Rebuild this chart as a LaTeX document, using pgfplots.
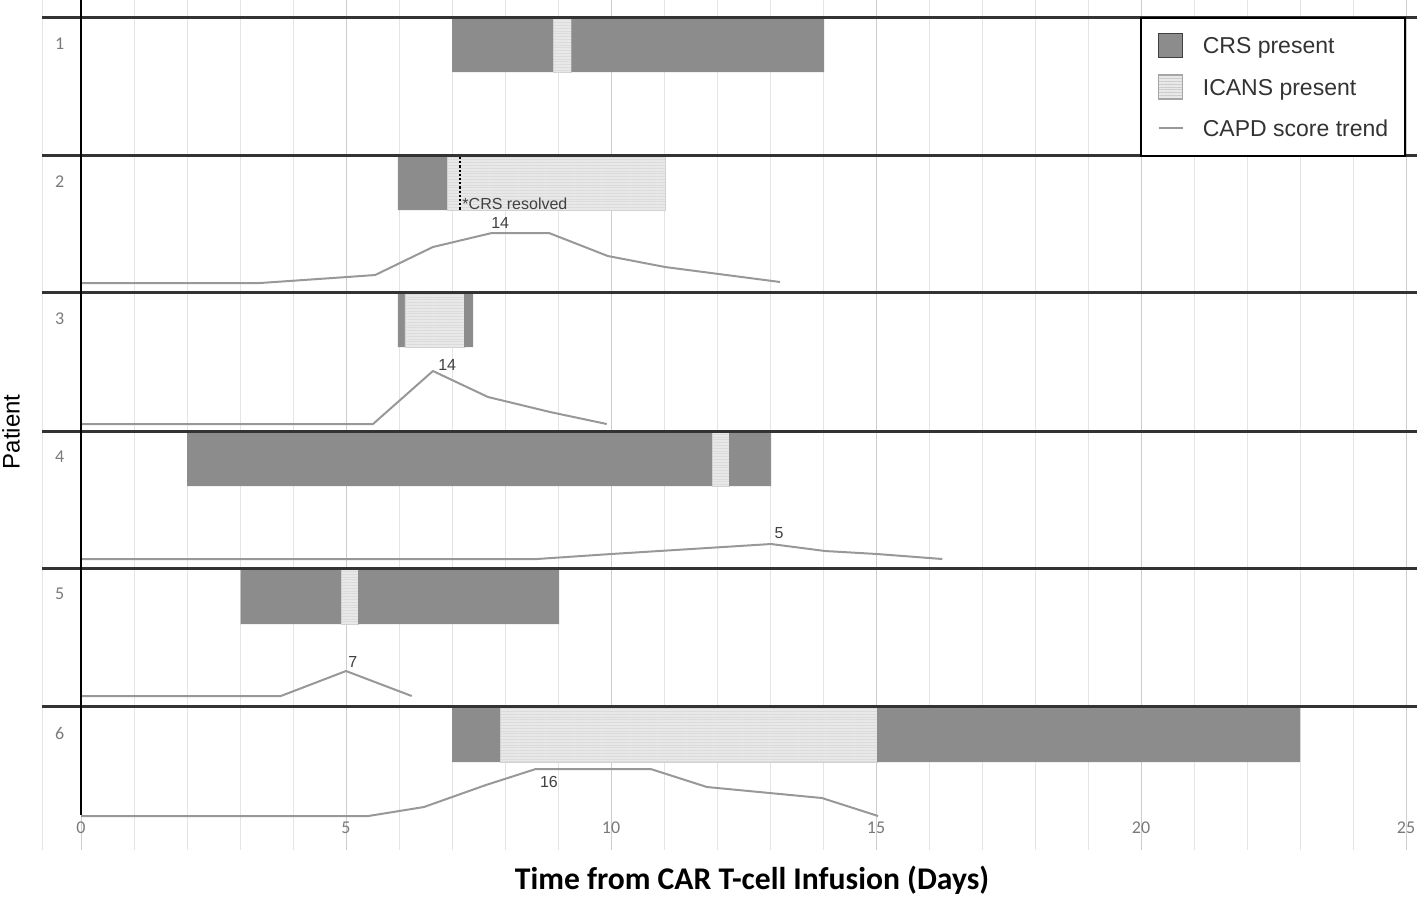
\documentclass[border=0pt]{standalone}
\usepackage{pgfplots}
\pgfplotsset{compat=1.18}
\usetikzlibrary{patterns.meta}
\usepackage{fontspec}
\setmainfont{Liberation Sans}
\newfontfamily\carlito{Carlito}
\definecolor{crs}{HTML}{8C8C8C}
\definecolor{icans}{HTML}{E8E8E8}
\definecolor{capd}{HTML}{989898}
\definecolor{sepc}{HTML}{333333}
\definecolor{gridc}{HTML}{E4E4E4}
\definecolor{tickc}{HTML}{7A7A7A}
\pgfplotsset{
  crsbar/.style={fill=crs, draw=none, forget plot},
  icansbar/.style={fill=icans, draw=gray!35, line width=0.3pt,
    postaction={pattern={Lines[angle=0,distance=1.4pt,line width=0.3pt]}, pattern color=gray!28},
    forget plot},
  capdline/.style={draw=capd, line width=1pt, mark=none, forget plot},
  sepline/.style={draw=sepc, line width=1.5pt, mark=none, forget plot},
}
\tikzset{numlab/.style={font=\fontsize{8}{9}\selectfont, text=black!75}}
\begin{document}
\begin{tikzpicture}
\begin{axis}[
  scale only axis,
  width=687.5pt, height=425pt,
  xmin=-0.7358, xmax=25.2075,
  ymin=0, ymax=850, y dir=reverse,
  axis line style={draw=none},
  ytick=\empty,
  xtick={0,5,...,25},
  minor x tick num=4,
  xmajorgrids, xminorgrids,
  major grid style={draw=gridc!90!black, line width=0.5pt},
  minor grid style={draw=gridc, line width=0.5pt},
  tick style={draw=none},
  major tick length=0pt, minor tick length=0pt,
  /pgf/number format/assume math mode=true,
  xticklabel style={font=\carlito\fontsize{9}{10}\selectfont, text=tickc, anchor=center, yshift=11pt},
  xlabel={Time from CAR T-cell Infusion (Days)},
  xlabel style={at={(axis description cs:0.5164,-0.0353)}, anchor=center,
    font=\carlito\bfseries\fontsize{15.8}{17}\selectfont},
  ylabel={Patient},
  ylabel style={at={(axis description cs:-0.0225,0.492)}, anchor=center, rotate=0,
    font=\fontsize{12}{14}\selectfont},
  clip=false,
  legend style={at={(axis cs:25,17)}, anchor=north east, draw=black, line width=0.8pt,
    fill=white, font=\fontsize{11.5}{13}\selectfont, text=black!80,
    inner xsep=8.5pt, inner ysep=7.5pt, row sep=8pt,
    nodes={inner sep=0pt, text height=8.5pt, text depth=2.5pt},
    /tikz/every odd column/.append style={column sep=9.5pt}},
  legend cell align=left,
]
% faint left frame line
\addplot[draw=gridc, line width=0.5pt, forget plot] coordinates {(-0.7358,0) (-0.7358,850)};

% Patient 1
\addplot[crsbar] coordinates {(7.00,17) (8.91,17) (8.91,72) (7.00,72) (7.00,17)};
\addplot[icansbar] coordinates {(8.91,17) (9.25,17) (9.25,72) (8.91,72) (8.91,17)};
\addplot[crsbar] coordinates {(9.25,17) (14.02,17) (14.02,72) (9.25,72) (9.25,17)};

% Patient 2
\addplot[crsbar] coordinates {(5.98,155) (6.92,155) (6.92,210) (5.98,210) (5.98,155)};
\addplot[icansbar] coordinates {(6.92,155) (11.02,155) (11.02,210) (6.92,210) (6.92,155)};
\addplot[black, line width=1.1pt, densely dotted, forget plot] coordinates {(7.15,157) (7.15,210)};
\addplot[capdline] coordinates {(0,283) (3.38,283) (5.02,277) (5.55,275) (6.64,247) (7.75,233) (8.83,233) (9.94,256) (11.02,267) (13.19,282)};

% Patient 3
\addplot[crsbar] coordinates {(5.98,292) (6.11,292) (6.11,347) (5.98,347) (5.98,292)};
\addplot[icansbar] coordinates {(6.11,292) (7.23,292) (7.23,347) (6.11,347) (6.11,292)};
\addplot[crsbar] coordinates {(7.23,292) (7.40,292) (7.40,347) (7.23,347) (7.23,292)};
\addplot[capdline] coordinates {(0,424) (5.51,424) (6.64,371) (7.68,397) (8.85,412) (9.92,424)};

% Patient 4
\addplot[crsbar] coordinates {(2.00,431) (11.91,431) (11.91,486) (2.00,486) (2.00,431)};
\addplot[icansbar] coordinates {(11.91,431) (12.23,431) (12.23,486) (11.91,486) (11.91,431)};
\addplot[crsbar] coordinates {(12.23,431) (13.02,431) (13.02,486) (12.23,486) (12.23,431)};
\addplot[capdline] coordinates {(0,559) (8.60,559) (10.0,554) (13.02,544) (14.04,551) (15.02,554) (16.25,559)};

% Patient 5
\addplot[crsbar] coordinates {(3.01,568) (4.91,568) (4.91,624) (3.01,624) (3.01,568)};
\addplot[icansbar] coordinates {(4.91,568) (5.23,568) (5.23,624) (4.91,624) (4.91,568)};
\addplot[crsbar] coordinates {(5.23,568) (9.02,568) (9.02,624) (5.23,624) (5.23,568)};
\addplot[capdline] coordinates {(0,696) (3.77,696) (5.0,671) (6.24,696)};

% Patient 6
\addplot[crsbar] coordinates {(7.00,706) (7.91,706) (7.91,762) (7.00,762) (7.00,706)};
\addplot[icansbar] coordinates {(7.91,706) (15.02,706) (15.02,762) (7.91,762) (7.91,706)};
\addplot[crsbar] coordinates {(15.02,706) (23.00,706) (23.00,762) (15.02,762) (15.02,706)};
\addplot[capdline] coordinates {(0,816) (5.42,816) (6.47,807) (7.64,785) (8.58,769) (10.75,769) (11.81,787) (13.98,798) (15.04,816)};

% panel separators
\addplot[sepline] coordinates {(-0.7358,17) (25.2075,17)};
\addplot[sepline] coordinates {(-0.7358,155) (25.2075,155)};
\addplot[sepline] coordinates {(-0.7358,292) (25.2075,292)};
\addplot[sepline] coordinates {(-0.7358,431) (25.2075,431)};
\addplot[sepline] coordinates {(-0.7358,568) (25.2075,568)};
\addplot[sepline] coordinates {(-0.7358,706) (25.2075,706)};
% y axis line
\addplot[black, line width=1.3pt, forget plot] coordinates {(0,0) (0,815)};

% annotations
\node[numlab, anchor=west, inner sep=0pt] at (axis cs:7.19,204) {*CRS resolved};
\node[numlab] at (axis cs:7.91,223) {14};
\node[numlab] at (axis cs:6.91,365) {14};
\node[numlab] at (axis cs:13.17,533) {5};
\node[numlab] at (axis cs:5.13,662) {7};
\node[numlab] at (axis cs:8.83,782) {16};

% patient numbers
\node[font=\carlito\fontsize{9}{10}\selectfont, text=tickc] at (axis cs:-0.40,44) {1};
\node[font=\carlito\fontsize{9}{10}\selectfont, text=tickc] at (axis cs:-0.40,182) {2};
\node[font=\carlito\fontsize{9}{10}\selectfont, text=tickc] at (axis cs:-0.40,319) {3};
\node[font=\carlito\fontsize{9}{10}\selectfont, text=tickc] at (axis cs:-0.40,457) {4};
\node[font=\carlito\fontsize{9}{10}\selectfont, text=tickc] at (axis cs:-0.40,594) {5};
\node[font=\carlito\fontsize{9}{10}\selectfont, text=tickc] at (axis cs:-0.40,733) {6};

% legend
\addlegendimage{legend image code/.code={\path[draw=none,fill=none] (0pt,-5pt) rectangle (12pt,7pt); \draw[fill=crs, draw=black!75, line width=0.6pt] (0pt,-5pt) rectangle (12pt,7pt);}}
\addlegendentry{CRS present}
\addlegendimage{legend image code/.code={\path[draw=none,fill=none] (0pt,-5pt) rectangle (12pt,7pt); \draw[fill=icans, draw=gray!70, line width=0.6pt, postaction={pattern={Lines[angle=0,distance=1.4pt,line width=0.3pt]}, pattern color=gray!40}] (0pt,-5pt) rectangle (12pt,7pt);}}
\addlegendentry{ICANS present}
\addlegendimage{legend image code/.code={\path[draw=none,fill=none] (0pt,-5pt) rectangle (12pt,7pt); \draw[draw=capd, line width=1pt] (0pt,1pt) -- (12pt,1pt);}}
\addlegendentry{CAPD score trend}

\coordinate (BL) at (axis cs:-1.5283,896);
\coordinate (TR) at (axis cs:25.2075,0);
\end{axis}
\pgfresetboundingbox
\path[use as bounding box] (BL) rectangle (TR);
\end{tikzpicture}
\end{document}
